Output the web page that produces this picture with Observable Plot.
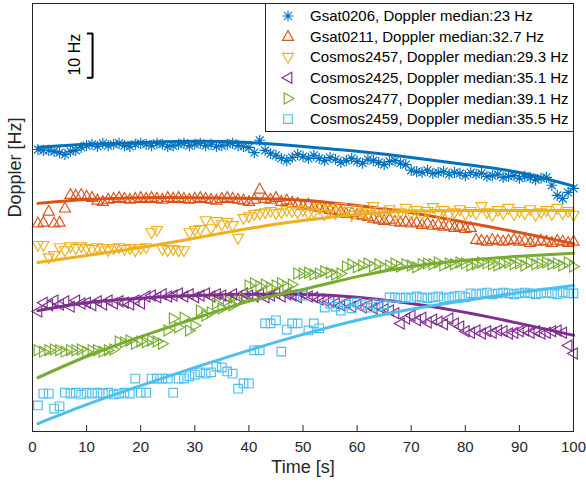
<!DOCTYPE html>
<html><head><meta charset="utf-8">
<script src="https://cdn.jsdelivr.net/npm/d3@7"></script>
<script src="https://cdn.jsdelivr.net/npm/@observablehq/plot@0.6"></script>
<style>
body{margin:0;background:#fff;font-family:"Liberation Sans",Arial,Helvetica,sans-serif;}
#wrap{position:relative;width:586px;height:488px;}
</style></head><body><div id="wrap"></div><script>
// ---------------- data ----------------
const time = d3.range(1, 101); // one sample per second, 1..100 s
const fitTime = [1, 10, 20, 30, 40, 50, 60, 70, 80, 90, 100];
const xTicks = [0, 10, 20, 30, 40, 50, 60, 70, 80, 90, 100];

const names = ["Gsat0206", "Gsat0211", "Cosmos2457", "Cosmos2425", "Cosmos2477", "Cosmos2459"];
const medians = ["23", "32.7", "29.3", "35.1", "39.1", "35.5"];
const colors = ["#0072BD", "#D95319", "#EDB120", "#7E2F8E", "#77AC30", "#4DBEEE"];

// Doppler [Hz] (relative offset), one value per second
const gsat0206 = [63.9,63.7,63.7,63.5,63.2,62.8,63.5,63.7,64.4,
 64.8,65.1,64.6,65.3,64.8,65.1,65.3,64.8,64.6,65.1,65.3,65.1,64.8,65.3,65.1,64.6,64.8,65.1,65.3,64.8,65.1,65.3,64.8,65.1,64.6,64.8,65.1,65.3,64.8,64.6,64.4,
 63.2,66.0,63.7,63.0,62.6,61.9,61.4,62.1,62.8,62.3,61.9,
 62.6,61.9,61.4,62.1,61.7,61.0,61.4,61.9,61.2,60.8,61.7,61.4,61.0,60.5,61.2,61.4,60.8,60.5,
 59.2,58.9,58.7,59.2,58.5,58.7,58.9,58.3,58.7,58.5,58.0,58.7,58.3,58.5,57.8,58.0,58.3,57.6,57.8,58.0,57.4,57.8,57.6,57.1,57.4,57.6,
 55.8,53.5,52.8,54.2,55.1];
const gsat0211 = [47.2,47.4,49.9,47.2,47.4,50.6,
 53.7,53.5,53.7,53.3,53.0,
 52.4,52.1,52.6,52.8,53.0,52.8,52.6,52.8,53.0,52.8,53.0,52.8,52.6,53.0,52.8,53.0,52.8,52.6,52.8,53.0,52.8,52.6,52.4,52.8,53.0,52.8,52.6,52.4,52.1,52.6,
 54.9,
 52.8,52.6,53.0,52.1,52.4,
 51.9,51.7,51.2,51.5,51.0,50.8,50.6,50.3,
 50.1,49.9,49.4,49.6,49.2,49.0,48.7,
 48.3,48.1,47.8,48.1,47.6,47.4,47.6,47.2,47.4,46.9,47.2,46.7,46.9,46.5,46.7,46.2,46.5,46.0,46.2,
 43.5,43.3,43.1,43.5,43.3,43.1,43.3,43.5,43.1,43.3,42.8,43.1,43.3,43.1,42.8,43.3,43.1,42.8,43.1];
const cosmos2457 = [42.2,42.2,39.4,39.9,41.7,41.0,41.9,41.5,41.9,
 41.5,41.3,41.7,41.5,41.0,41.5,41.7,41.3,41.5,41.0,41.5,41.7,
 45.1,45.6,41.3,41.0,41.3,41.0,41.0,
 45.1,45.6,45.8,47.8,46.0,47.6,46.9,47.4,46.7,43.8,48.3,48.7,49.2,
 49.4,49.6,49.9,49.4,49.6,50.1,49.9,49.6,50.1,49.4,
 49.6,50.6,49.2,50.1,49.4,50.8,49.9,49.0,50.3,49.6,49.2,51.0,49.9,49.4,50.3,49.0,49.6,50.6,49.4,50.1,49.2,49.9,50.8,49.4,50.1,49.0,49.6,50.3,49.2,49.9,49.4,51.0,49.6,49.0,50.1,49.4,50.6,49.2,49.9,49.4,50.3,49.0,49.6,50.1,49.2,50.6,49.4,49.9,49.0];
const cosmos2425 = [27.2,
 29.2,28.6,29.7,28.8,29.5,28.3,29.7,29.0,29.2,28.6,29.5,28.8,29.7,29.0,29.5,29.2,28.8,29.7,29.0,
 30.6,30.8,30.4,31.1,30.6,30.8,31.3,30.6,31.1,30.4,30.8,31.3,30.6,31.1,30.8,30.4,31.1,30.6,31.3,30.8,30.6,31.1,30.4,30.8,31.3,30.6,31.1,30.8,30.4,31.1,30.6,
 30.4,29.9,29.7,
 29.5,29.0,28.6,29.2,28.3,28.8,28.1,28.6,27.9,28.3,27.7,27.4,
 26.8,24.5,25.6,26.3,25.2,25.8,24.7,25.4,24.9,24.3,25.6,24.5,23.8,
 22.7,22.4,22.9,22.2,22.7,22.4,22.9,22.7,22.2,22.4,22.7,22.9,22.4,22.7,22.2,22.4,22.7,22.9,22.4,
 19.5,17.7];
const cosmos2477 = [18.4,18.1,18.4,18.6,18.4,18.1,18.4,18.4,18.6,18.1,18.4,18.4,18.1,18.4,18.6,
 20.4,20.2,20.6,19.9,20.4,20.2,20.6,20.4,19.9,
 22.9,25.6,23.6,25.8,22.9,24.0,27.4,26.3,27.0,29.0,27.9,29.7,28.6,29.7,30.2,33.1,33.6,32.9,33.3,32.6,33.1,33.6,32.9,33.3,35.8,
 35.8,36.0,35.6,35.8,36.3,36.0,35.6,35.8,
 37.4,37.9,37.2,37.6,38.1,37.4,37.9,37.2,37.6,38.1,37.4,37.9,37.6,37.2,37.9,
 38.1,37.9,38.3,37.6,38.1,37.9,38.3,38.1,37.6,37.9,38.3,38.1,37.9,37.6,38.1,38.3,37.9,38.1,37.6,38.3,37.9,38.1,38.3,37.9,38.1,37.6,38.3,37.4];
const cosmos2459 = [5.9,8.6,8.6,5.2,5.7,
 8.8,8.6,8.8,8.4,8.8,8.6,8.8,8.6,8.8,8.4,8.6,8.8,8.6,
 12.0,8.8,8.8,12.0,12.0,12.0,12.0,8.8,12.0,12.0,12.5,12.9,13.4,13.1,13.4,14.7,14.5,13.6,13.1,9.7,10.9,10.9,18.4,18.4,24.5,24.5,25.2,18.1,23.1,24.5,24.5,30.8,22.9,24.5,23.4,28.1,
 29.0,28.3,27.4,28.8,27.9,29.2,28.6,28.1,29.0,28.3,28.8,30.4,
 30.4,30.2,30.4,30.2,30.6,30.4,30.2,30.4,30.6,30.2,30.4,30.6,30.8,30.4,
 31.3,31.1,31.3,31.5,31.1,31.3,31.5,31.3,31.1,31.3,31.5,31.3,31.1,31.3,31.5,31.3,31.1,31.5,31.3,31.3];

// fitted trends, sampled at fitTime
const fit0206 = [64.4,65.1,65.5,65.8,65.5,64.6,63.5,62.1,60.5,58.7,55.6];
const fit0211 = [51.7,52.6,53.0,53.0,52.8,52.4,51.2,49.6,47.4,45.1,42.6];
const fit2457 = [38.3,39.9,41.7,43.8,46.0,47.8,49.2,49.9,50.1,50.1,50.1];
const fit2425 = [27.4,29.2,30.2,30.8,31.1,31.1,30.4,29.0,27.0,24.5,21.8];
const fit2477 = [12.2,17.0,21.5,25.6,29.5,32.2,35.1,37.4,38.8,39.7,40.4];
const fit2459 = [1.8,6.1,10.4,14.5,18.4,22.0,25.2,27.7,29.7,31.5,33.1];

// scale bar (10 Hz)
const barX = [10.2, 11.1];
const barY = [80.2, 90.2];
const barLabel = "10 Hz";

// ---------------- markers ----------------
const mk = {
  asterisk: {draw(c){const r=5.6,d=r*0.707;c.moveTo(-r,0);c.lineTo(r,0);c.moveTo(0,-r);c.lineTo(0,r);c.moveTo(-d,-d);c.lineTo(d,d);c.moveTo(-d,d);c.lineTo(d,-d);}},
  up:    {draw(c){c.moveTo(0,-6);c.lineTo(5.5,3.8);c.lineTo(-5.5,3.8);c.closePath();}},
  down:  {draw(c){c.moveTo(0,6);c.lineTo(5.5,-3.8);c.lineTo(-5.5,-3.8);c.closePath();}},
  left:  {draw(c){c.moveTo(-6,0);c.lineTo(3.8,-5.5);c.lineTo(3.8,5.5);c.closePath();}},
  right: {draw(c){c.moveTo(6,0);c.lineTo(-3.8,-5.5);c.lineTo(-3.8,5.5);c.closePath();}},
  square:{draw(c){c.rect(-4.3,-4.3,8.6,8.6);}}
};
const markers = [mk.asterisk, mk.up, mk.down, mk.left, mk.right, mk.square];
const values = [gsat0206, gsat0211, cosmos2457, cosmos2425, cosmos2477, cosmos2459];
const fits = [fit0206, fit0211, fit2457, fit2425, fit2477, fit2459];

const ink = "#262626";
const marks = [];
values.forEach((vals, i) => {
  const pts = time.map((t, j) => ({t, v: vals[j]}));
  const fp = fitTime.map((t, j) => ({t, v: fits[i][j]}));
  marks.push(Plot.dot(pts, {x: "t", y: "v", symbol: markers[i], stroke: colors[i], fill: "none", strokeWidth: 1.15, r: 4.5}));
  marks.push(Plot.line(fp, {x: "t", y: "v", stroke: colors[i], strokeWidth: 3, curve: "natural"}));
});

// scale bar
marks.push(Plot.line([{x: barX[0], y: barY[1]}, {x: barX[1], y: barY[1]}, {x: barX[1], y: barY[0]}, {x: barX[0], y: barY[0]}],
  {x: "x", y: "y", stroke: "#000", strokeWidth: 2, strokeLinejoin: "miter"}));
marks.push(Plot.text([{x: 7.9, y: (barY[0] + barY[1]) / 2 + 0.2, s: barLabel}], {x: "x", y: "y", text: "s", rotate: -90, fontSize: 16, fill: "#000"}));

// frame, ticks, labels
marks.push(Plot.frame({stroke: ink, strokeWidth: 1}));
marks.push(Plot.tickX(xTicks, {x: d => d, insetTop: 422, stroke: ink}));
marks.push(Plot.text(xTicks, {x: d => d, text: d => String(d), frameAnchor: "bottom", dy: 20, fontSize: 15, fill: ink}));
marks.push(Plot.text(["Time [s]"], {frameAnchor: "bottom", dy: 41, fontSize: 18, fill: ink}));
marks.push(Plot.text(["Doppler [Hz]"], {frameAnchor: "left", dx: -17, rotate: -90, fontSize: 18, fill: ink}));

const chart = Plot.plot({
  width: 586, height: 488,
  marginLeft: 32, marginRight: 13, marginTop: 3, marginBottom: 57,
  x: {domain: [0, 100], axis: null},
  y: {domain: [0, 97], axis: null},
  style: {fontFamily: "'Liberation Sans', Arial, Helvetica, sans-serif", background: "#fff", overflow: "visible"},
  marks
});
const wrap = document.getElementById("wrap");
wrap.appendChild(chart);

// legend (inside the axes, top right)
const leg = d3.select(wrap).append("svg")
  .attr("width", 309).attr("height", 129)
  .style("position", "absolute").style("left", "265px").style("top", "3px")
  .style("font-family", "'Liberation Sans', Arial, Helvetica, sans-serif");
leg.append("rect").attr("x", 0.5).attr("y", 0.5).attr("width", 308).attr("height", 128)
  .attr("fill", "#fff").attr("stroke", ink);
names.forEach((n, i) => {
  const y = 13 + i * 20.6;
  const p = d3.path(); markers[i].draw(p);
  leg.append("path").attr("d", p.toString()).attr("transform", `translate(23,${y})`)
    .attr("fill", "none").attr("stroke", colors[i]).attr("stroke-width", 1.15);
  leg.append("text").attr("x", 45).attr("y", y).attr("dy", "0.35em")
    .attr("font-size", 15).attr("fill", "#000")
    .text(`${n}, Doppler median:${medians[i]} Hz`);
});
</script></body></html>
